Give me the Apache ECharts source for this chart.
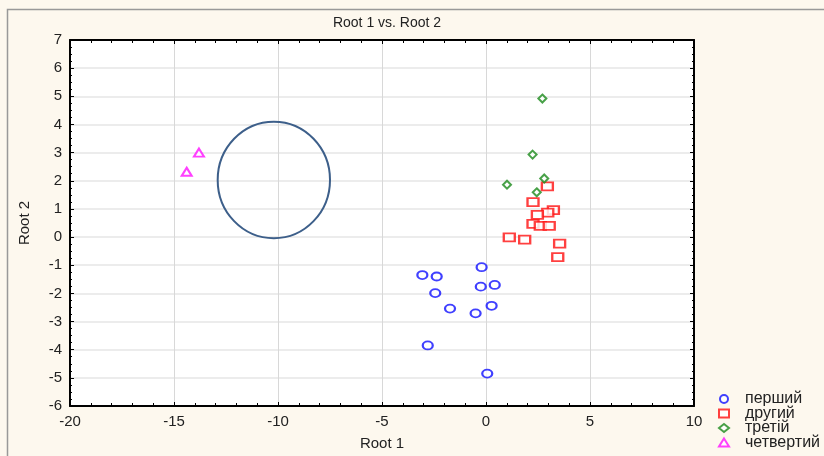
<!DOCTYPE html>
<html>
<head>
<meta charset="utf-8">
<script src="https://cdn.jsdelivr.net/npm/echarts@6/dist/echarts.min.js"></script>
<style>
  html, body { margin: 0; padding: 0; background: #fdf8ee; }
  #main { width: 824px; height: 456px; }
</style>
</head>
<body>
<div id="main"></div>
<script>
// Root 1 / Root 2 pairs per group
var pershyi = [
  [-0.21, -1.07], [-3.06, -1.35], [-2.37, -1.40], [-0.25, -1.76], [0.42, -1.70],
  [-2.44, -1.99], [-1.73, -2.54], [0.27, -2.44], [-0.50, -2.71], [-2.80, -3.85],
  [0.06, -4.85]
];
var druhyi = [
  [2.95, 1.80], [2.26, 1.24], [3.24, 0.96], [2.97, 0.87], [2.47, 0.79],
  [2.26, 0.47], [2.61, 0.40], [3.04, 0.40], [1.12, -0.01], [1.86, -0.09],
  [3.54, -0.23], [3.45, -0.71]
];
var tretii = [[2.71, 4.92], [2.24, 2.93], [2.80, 2.08], [1.01, 1.86], [2.44, 1.59]];
var chetvertyi = [[-13.80, 3.00], [-14.39, 2.32]];
// ellipse: center x, center y, radius x, radius y
var ellipse = [[-10.2, 2.03, 2.7, 2.07]];

var seriesNames = ['перший', 'другий', 'третій', 'четвертий'];

var chart = echarts.init(document.getElementById('main'));

var txt = { color: '#222', fontFamily: 'Liberation Sans, Arial', fontSize: 15 };

var option = {
  backgroundColor: '#fdf8ee',
  animation: false,
  graphic: [{
    type: 'rect',
    left: 5, top: 7,
    shape: { width: 830, height: 460 },
    style: { fill: 'none', stroke: '#999', lineWidth: 1.5 },
    silent: true
  }],
  title: {
    text: 'Root 1 vs. Root 2',
    left: 382, top: 11,
    textAlign: 'center',
    textStyle: { color: '#222', fontFamily: 'Liberation Sans, Arial', fontSize: 14, fontWeight: 'normal' }
  },
  legend: {
    orient: 'vertical',
    left: 718, top: 391,
    height: 90,
    padding: 0,
    itemWidth: 10, itemHeight: 8,
    itemGap: -1.5,
    data: [
      { name: seriesNames[0], icon: 'emptyCircle' },
      { name: seriesNames[1], icon: 'emptyRect' },
      { name: seriesNames[2], icon: 'emptyDiamond' },
      { name: seriesNames[3], icon: 'emptyTriangle' }
    ],
    textStyle: { color: '#222', fontFamily: 'Liberation Sans, Arial', fontSize: 16, lineHeight: 15, padding: [0, 0, 0, 11] }
  },
  grid: { left: 70, right: 130, top: 40, bottom: 44, backgroundColor: '#fff', show: true, borderWidth: 0 },
  xAxis: [{
    type: 'value', min: -20, max: 10, interval: 5,
    name: 'Root 1', nameLocation: 'middle', nameGap: 30,
    nameTextStyle: txt,
    axisLine: { onZero: false, lineStyle: { color: '#000', width: 2 } },
    axisTick: { inside: true, length: 4, lineStyle: { color: '#000' } },
    minorTick: { show: true, splitNumber: 5, length: 3, lineStyle: { color: '#000' } },
    axisLabel: txt,
    splitLine: { lineStyle: { color: '#d8d8d8' } }
  }, {
    type: 'value', min: -20, max: 10, interval: 5, position: 'top',
    axisLine: { onZero: false, lineStyle: { color: '#000', width: 2 } },
    axisTick: { inside: true, length: 4, lineStyle: { color: '#000' } },
    minorTick: { show: true, splitNumber: 5, length: 3, lineStyle: { color: '#000' } },
    axisLabel: { show: false },
    splitLine: { show: false }
  }],
  yAxis: [{
    type: 'value', min: -6, max: 7, interval: 1,
    name: 'Root 2', nameLocation: 'middle', nameGap: 38, nameRotate: 90,
    nameTextStyle: txt,
    axisLine: { onZero: false, lineStyle: { color: '#000', width: 2 } },
    axisTick: { inside: true, length: 4, lineStyle: { color: '#000' } },
    minorTick: { show: true, splitNumber: 4, length: 2, lineStyle: { color: '#000' } },
    axisLabel: txt,
    splitLine: { lineStyle: { color: '#e6e6e6', width: 1.5 } }
  }, {
    type: 'value', min: -6, max: 7, interval: 1, position: 'right',
    axisLine: { onZero: false, lineStyle: { color: '#000', width: 2 } },
    axisTick: { inside: true, length: 4, lineStyle: { color: '#000' } },
    minorTick: { show: true, splitNumber: 4, length: 2, lineStyle: { color: '#000' } },
    axisLabel: { show: false },
    splitLine: { show: false }
  }],
  series: [{
    name: seriesNames[0], type: 'scatter', data: pershyi,
    symbol: 'emptyCircle', symbolSize: [10, 8],
    itemStyle: { color: '#1010ff', borderWidth: 3 }
  }, {
    name: seriesNames[1], type: 'scatter', data: druhyi,
    symbol: 'emptyRect', symbolSize: [11, 8],
    itemStyle: { color: '#ff1010', borderWidth: 2.5 }
  }, {
    name: seriesNames[2], type: 'scatter', data: tretii,
    symbol: 'emptyDiamond', symbolSize: 8,
    itemStyle: { color: '#1a8a1a', borderWidth: 2.5 }
  }, {
    name: seriesNames[3], type: 'scatter', data: chetvertyi,
    symbol: 'emptyTriangle', symbolSize: [10, 8],
    itemStyle: { color: '#ff10ff', borderWidth: 2.5 }
  }, {
    type: 'custom', data: ellipse, silent: true, z: 1,
    renderItem: function (params, api) {
      var c = api.coord([api.value(0), api.value(1)]);
      var s = api.size([api.value(2), api.value(3)]);
      return {
        type: 'ellipse',
        shape: { cx: c[0], cy: c[1], rx: s[0], ry: s[1] },
        style: { fill: 'none', stroke: '#3d5f8a', lineWidth: 2 }
      };
    }
  }]
};

chart.setOption(option);
</script>
</body>
</html>
